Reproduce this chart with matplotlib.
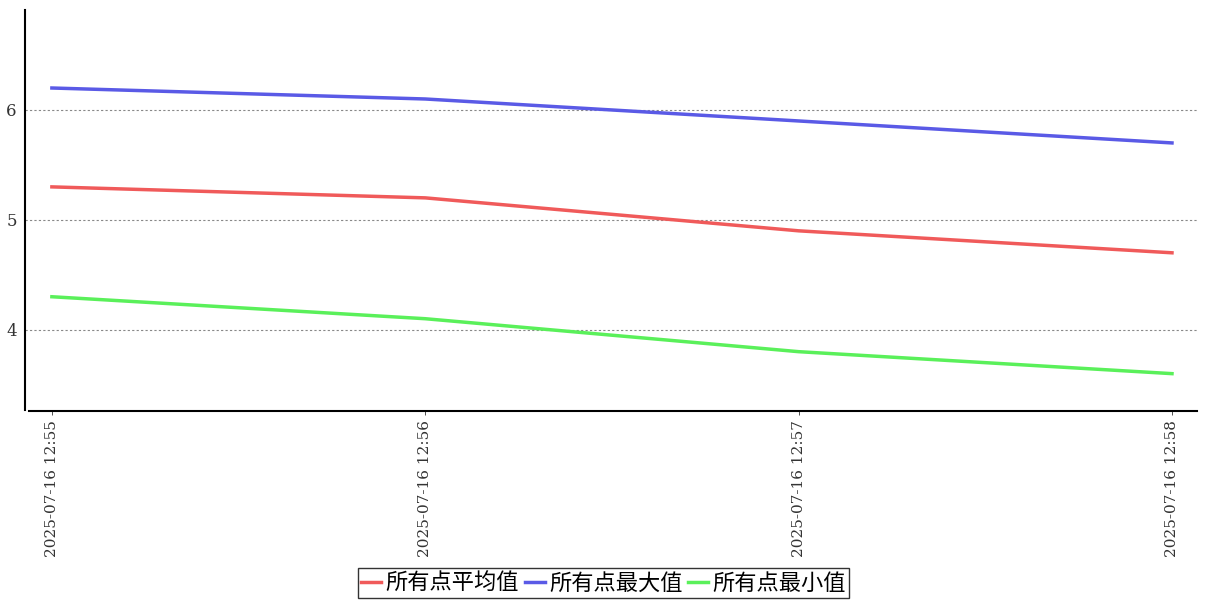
import matplotlib
matplotlib.use('Agg')
import matplotlib.pyplot as plt

times = ['2025-07-16 12:55', '2025-07-16 12:56', '2025-07-16 12:57', '2025-07-16 12:58']
avg_vals = [5.3, 5.2, 4.9, 4.7]
max_vals = [6.2, 6.1, 5.9, 5.7]
min_vals = [4.3, 4.1, 3.8, 3.6]

plt.rcParams['font.family'] = ['DejaVu Serif', 'Noto Sans CJK SC']

fig = plt.figure(figsize=(12.07, 6), dpi=100)
ax = fig.add_axes([25 / 1207, 1 - 411 / 600, 1172 / 1207, 401 / 600])

x = range(len(times))
ax.plot(x, avg_vals, color='#f05a5a', lw=2.5, label='所有点平均值')
ax.plot(x, max_vals, color='#5a5ae6', lw=2.5, label='所有点最大值')
ax.plot(x, min_vals, color='#5af05a', lw=2.5, label='所有点最小值')

ax.set_xlim(-0.072, 3.067)
ax.set_ylim(3.26, 6.91)
ax.set_yticks([4, 5, 6])
ax.set_xticks(list(x))
ax.set_xticklabels(times, rotation=90, fontsize=11)
ax.tick_params(axis='y', length=0, labelsize=12, colors='#333333', pad=6)
ax.tick_params(axis='x', length=3, colors='#333333', width=0.6)
ax.grid(axis='y', linestyle=(0, (2, 2)), color='#888888', lw=0.8)
ax.spines['top'].set_visible(False)
ax.spines['right'].set_visible(False)
ax.spines['left'].set_linewidth(1.5)
ax.spines['bottom'].set_linewidth(1.5)
ax.spines['left'].set_bounds(3.27, 6.91)
ax.spines['bottom'].set_bounds(-0.062, 3.067)

leg = fig.legend(loc='lower center', bbox_to_anchor=(0.5, 0.0), ncol=3,
                 frameon=True, fancybox=False, edgecolor='black',
                 prop={'family': ['Noto Sans CJK SC'], 'size': 16},
                 handlelength=0.9, handletextpad=0.2, columnspacing=0.25,
                 borderpad=0.15, borderaxespad=0.1)
leg.get_frame().set_linewidth(1.0)

fig.savefig('out.png', dpi=100)
